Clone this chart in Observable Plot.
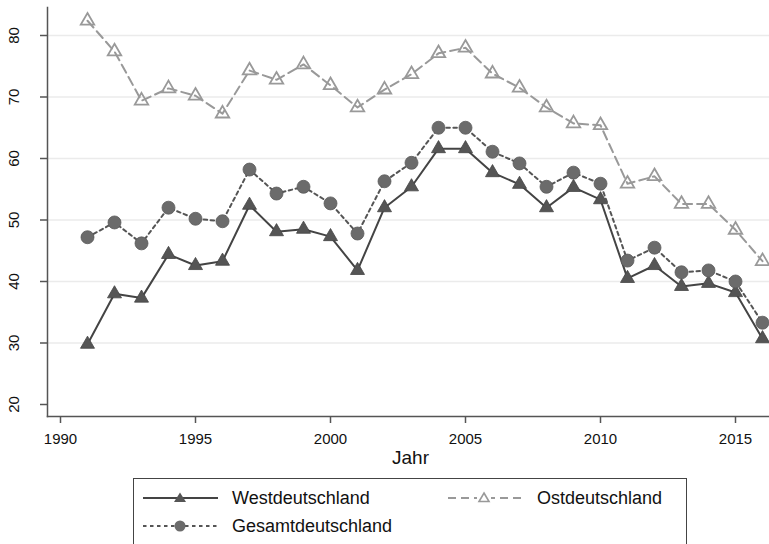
<!DOCTYPE html>
<html><head><meta charset="utf-8">
<script src="https://cdn.jsdelivr.net/npm/d3@7"></script>
<script src="https://cdn.jsdelivr.net/npm/@observablehq/plot@0.6"></script>
<style>
body{margin:0;background:#fff;font-family:"Liberation Sans",Arial,sans-serif;}
#wrap{position:relative;width:769px;height:544px;overflow:hidden;background:#fff}
#legend{position:absolute;left:133px;top:478px;width:554px;height:80px;border:1px solid #444;box-sizing:border-box;background:#fff}
#legend .item{position:absolute;display:flex;align-items:center;font-size:18px;color:#111;white-space:nowrap}
#legend svg{display:block;margin-right:14px}
</style></head><body><div id="wrap"></div>
<script>
const years = [1991,1992,1993,1994,1995,1996,1997,1998,1999,2000,2001,2002,2003,2004,2005,2006,2007,2008,2009,2010,2011,2012,2013,2014,2015,2016];
const west = [29.8,38.0,37.3,44.4,42.6,43.3,52.4,48.1,48.5,47.3,41.8,52.0,55.4,61.6,61.6,57.7,55.8,52.0,55.3,53.3,40.5,42.6,39.2,39.7,38.2,30.7];
const ost = [82.4,77.4,69.4,71.4,70.2,67.3,74.3,72.8,75.3,71.9,68.3,71.2,73.7,77.1,78.0,73.8,71.5,68.3,65.7,65.4,55.9,57.1,52.6,52.6,48.4,43.3];
const gesamt = [47.2,49.6,46.2,52.0,50.2,49.8,58.2,54.3,55.4,52.7,47.8,56.3,59.3,65.0,65.0,61.1,59.2,55.4,57.7,55.9,43.4,45.5,41.5,41.8,40.0,33.3];
const xTicks = [1990,1995,2000,2005,2010,2015];
const yTicks = [20,30,40,50,60,70,80];
const gridValues = [30,40,50,60,70,80];
const seriesNames = ["Westdeutschland","Ostdeutschland","Gesamtdeutschland"];

const rowsOf = (vals, name) => years.map((year, i) => ({year, value: vals[i], series: name}));
const westRows = rowsOf(west, seriesNames[0]);
const ostRows = rowsOf(ost, seriesNames[1]);
const gesRows = rowsOf(gesamt, seriesNames[2]);

const chart = Plot.plot({
  width: 769, height: 470,
  marginLeft: 47, marginRight: 0, marginTop: 7, marginBottom: 54,
  insetLeft: 13, insetRight: 34, insetTop: 28, insetBottom: 12,
  style: {fontFamily: '"Liberation Sans", Arial, sans-serif', background: "#fff", color: "#111"},
  x: {domain: [1990, 2015], axis: null},
  y: {domain: [20, 80], axis: null},
  marks: [
    Plot.ruleY(gridValues, {stroke: "#ebebeb", strokeWidth: 1.6}),
    Plot.frame({anchor: "left", stroke: "#555", strokeWidth: 1.5}),
    Plot.frame({anchor: "bottom", stroke: "#555", strokeWidth: 1.5}),
    Plot.axisY({ticks: yTicks, tickSize: 7, tickFormat: () => "", stroke: "#555", strokeWidth: 1.5, label: null}),
    Plot.text(yTicks, {y: d => d, text: d => String(d), frameAnchor: "left", dx: -33, rotate: -90, textAnchor: "middle", fontSize: 15, fill: "#111"}),
    Plot.axisX({ticks: xTicks, tickSize: 7, tickPadding: 10, tickFormat: d => String(d), fontSize: 15, stroke: "#555", strokeWidth: 1.5, fill: "#111", label: null}),
    Plot.text(["Jahr"], {frameAnchor: "bottom", dy: 41, dx: 2, text: d => d, fontSize: 19, fill: "#111", lineAnchor: "middle"}),
    Plot.line(ostRows, {x: "year", y: "value", stroke: "#999", strokeWidth: 2, strokeDasharray: "9,5"}),
    Plot.dot(ostRows, {x: "year", y: "value", symbol: "triangle", r: 5, stroke: "#999", strokeWidth: 1.8, fill: "none"}),
    Plot.line(westRows, {x: "year", y: "value", stroke: "#444", strokeWidth: 2}),
    Plot.dot(westRows, {x: "year", y: "value", symbol: "triangle", r: 5.2, fill: "#555", stroke: "#444", strokeWidth: 0.8}),
    Plot.line(gesRows, {x: "year", y: "value", stroke: "#555", strokeWidth: 2, strokeDasharray: "3.5,3.5"}),
    Plot.dot(gesRows, {x: "year", y: "value", r: 6.5, fill: "#6b6b6b", stroke: "#5a5a5a", strokeWidth: 0.8})
  ]
});

const wrap = document.getElementById("wrap");
wrap.appendChild(chart);

// legend
const legend = document.createElement("div");
legend.id = "legend";
const sw = (kind) => {
  const line = {
    Westdeutschland: `<line x1="0" y1="9" x2="75" y2="9" stroke="#444" stroke-width="2"/><path d="M37,3.5 L43,13 L31,13 Z" fill="#555"/>`,
    Ostdeutschland: `<line x1="0" y1="9" x2="73" y2="9" stroke="#999" stroke-width="2" stroke-dasharray="8,5"/><rect x="29" y="0" width="14" height="18" fill="#fff"/><path d="M36,4 L41,12.5 L31,12.5 Z" fill="#fff" stroke="#999" stroke-width="1.6"/>`,
    Gesamtdeutschland: `<line x1="0" y1="9" x2="75" y2="9" stroke="#555" stroke-width="2" stroke-dasharray="3.5,3.5"/><circle cx="37" cy="9" r="5.5" fill="#6b6b6b"/>`
  }[kind];
  return `<svg width="75" height="18">${line}</svg>`;
};
const items = [
  {name: seriesNames[0], left: 9, top: 19},
  {name: seriesNames[1], left: 314, top: 19},
  {name: seriesNames[2], left: 9, top: 47}
];
for (const it of items) {
  const d = document.createElement("div");
  d.className = "item";
  d.style.left = it.left + "px";
  d.style.top = (it.top - 11) + "px";
  d.style.height = "22px";
  d.innerHTML = sw(it.name) + `<span>${it.name}</span>`;
  legend.appendChild(d);
}
wrap.appendChild(legend);
</script></body></html>
